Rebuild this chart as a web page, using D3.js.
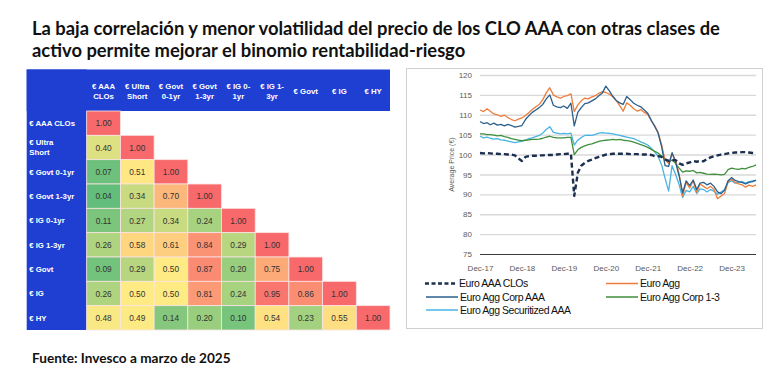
<!DOCTYPE html>
<html>
<head>
<meta charset="utf-8">
<script src="https://cdn.jsdelivr.net/npm/d3@7"></script>
<style>
  body { margin: 0; background: #fff; }
  svg { display: block; }
</style>
</head>
<body>
<div id="chart"></div>
<script>
var svgWidth = 775;
var svgHeight = 385;

// ---- heatmap data ----
var colLabels = [["€ AAA", "CLOs"], ["€ Ultra", "Short"], ["€ Govt", "0-1yr"], ["€ Govt", "1-3yr"],
                 ["€ IG 0-", "1yr"], ["€ IG 1-", "3yr"], ["€ Govt"], ["€ IG"], ["€ HY"]];
var rowLabels = [["€ AAA CLOs"], ["€ Ultra", "Short"], ["€ Govt 0-1yr"], ["€ Govt 1-3yr"],
                 ["€ IG 0-1yr"], ["€ IG 1-3yr"], ["€ Govt"], ["€ IG"], ["€ HY"]];
var corrValues = [
  [1.00],
  [0.40, 1.00],
  [0.07, 0.51, 1.00],
  [0.04, 0.34, 0.70, 1.00],
  [0.11, 0.27, 0.34, 0.24, 1.00],
  [0.26, 0.58, 0.61, 0.84, 0.29, 1.00],
  [0.09, 0.29, 0.50, 0.87, 0.20, 0.75, 1.00],
  [0.26, 0.50, 0.50, 0.81, 0.24, 0.95, 0.86, 1.00],
  [0.48, 0.49, 0.14, 0.20, 0.10, 0.54, 0.23, 0.55, 1.00]
];

// ---- line chart data (monthly, Dec-17 .. Jul-24) ----
var startMonth = new Date(2017, 11, 1);
var endMonth = new Date(2024, 6, 1);
var xTickLabels = ["Dec-17", "Dec-18", "Dec-19", "Dec-20", "Dec-21", "Dec-22", "Dec-23"];
var yTicks = [75, 80, 85, 90, 95, 100, 105, 110, 115, 120];

var euroAaaClos = [
  100.4, 100.3, 100.4, 100.3, 100.2, 100.2, 100.1, 100.1, 100.0, 100.0,
  99.8, 99.0, 98.4, 99.4, 99.6, 99.7, 99.7, 99.8, 99.8, 99.9,
  99.9, 99.9, 100.0, 100.1, 100.1, 100.2, 100.2, 89.6, 95.4, 97.2,
  97.9, 98.4, 98.7, 99.1, 99.4, 99.7, 100.0, 100.1, 100.2, 100.2,
  100.2, 100.2, 100.2, 100.1, 100.1, 100.1, 100.0, 100.0, 100.0, 99.9,
  99.6, 99.6, 99.4, 98.8, 98.4, 98.6, 98.6, 97.8, 97.4, 97.8,
  98.0, 98.4, 98.2, 98.4, 98.3, 98.9, 99.3, 99.6, 99.8, 100.0,
  100.1, 100.3, 100.4, 100.5, 100.5, 100.6, 100.6, 100.5, 100.4, 100.3
];
var euroAgg = [
  111.2, 110.8, 111.5, 110.9, 110.2, 110.0, 109.6, 109.9, 109.3, 108.8,
  108.5, 108.9, 109.2, 109.8, 110.6, 111.3, 112.0, 112.6, 113.8, 115.5,
  116.8, 115.0, 114.5, 114.2, 114.6, 114.8, 115.3, 110.8, 112.5, 113.5,
  114.2, 114.0, 114.5, 114.8, 115.4, 115.8, 115.6, 115.2, 114.5, 113.6,
  112.3, 110.9, 113.0, 112.4, 111.5, 110.9, 111.3, 110.6, 110.1, 108.5,
  107.2, 105.6, 102.4, 98.6, 97.8, 100.2, 98.5, 95.0, 89.6, 93.0,
  91.6, 93.4, 90.5, 92.6, 92.0, 91.4, 92.0, 91.2, 88.9, 89.6,
  90.2, 93.2, 93.8, 93.0, 92.6, 92.4, 91.8, 92.3, 92.0, 92.4
];
var euroAggCorpAaa = [
  108.3, 107.8, 108.0, 107.5, 107.9, 107.4, 107.6, 107.2, 107.6, 107.3,
  106.9, 107.1, 107.3, 108.8, 109.8, 110.6, 111.2, 111.8, 112.6, 114.0,
  115.0, 112.4, 112.0, 111.8, 112.2, 111.6, 112.9, 107.2, 110.6, 111.8,
  112.8, 113.0, 113.5, 114.0, 114.8, 115.5, 117.2, 116.0, 114.6, 113.6,
  113.0, 112.6, 114.6, 113.8, 112.9, 112.4, 112.0, 111.2, 110.4, 108.6,
  107.0, 105.4, 102.0, 97.2, 97.0, 100.5, 98.0, 94.6, 90.4, 93.4,
  92.2, 93.6, 91.2, 92.8, 93.0, 92.4, 92.8, 92.0, 90.6, 90.2,
  91.0, 93.4, 94.2, 93.5, 93.2, 93.0, 92.6, 93.0, 93.2, 93.5
];
var euroAggCorp13 = [
  105.2, 105.2, 105.0, 105.0, 104.9, 104.7, 104.8, 104.5, 104.3, 104.0,
  103.8, 103.6, 103.5, 103.6, 103.7, 103.8, 103.8, 103.9, 104.1, 104.4,
  104.6, 104.3, 104.2, 104.2, 104.2, 104.3, 104.3, 100.0, 101.2, 101.8,
  102.2, 102.5, 102.7, 103.0, 103.3, 103.5, 103.6, 103.7, 103.8, 103.7,
  103.8, 103.6, 103.5, 103.4, 103.1, 102.8, 102.5, 102.2, 101.8, 101.3,
  100.8, 100.4, 99.6, 98.8, 98.2, 98.6, 97.8, 96.6, 95.6, 95.9,
  95.8, 96.0, 95.4, 95.5, 95.3, 95.1, 95.0, 95.1, 95.0, 94.9,
  95.0, 96.2, 96.6, 96.4, 96.3, 96.5, 96.4, 96.8, 97.0, 97.4
];
var euroAggSecAaa = [
  104.6, 104.2, 104.4, 104.1, 103.9, 104.0, 103.7, 103.6, 103.4, 103.2,
  103.0, 103.2, 103.3, 103.6, 104.0, 104.2, 104.5, 104.8, 105.4, 106.3,
  107.0, 105.6, 105.4, 105.2, 105.3, 105.2, 105.4, 102.4, 103.6, 104.3,
  104.8, 104.9, 104.8, 105.1, 105.4, 105.5, 105.4, 105.3, 105.2, 105.0,
  104.8, 104.6, 104.4, 104.2, 104.0, 103.6, 103.2, 102.8, 102.4, 101.6,
  100.6, 99.6, 97.4, 94.0, 90.8, 97.2, 95.0, 92.4, 89.2, 91.0,
  90.6, 92.0, 90.2, 91.4, 91.2, 90.6, 91.2, 90.8, 90.0, 90.6,
  91.2, 93.0, 93.4, 92.8, 93.0, 93.2, 92.8, 93.2, 93.4, 93.6
];

var seriesNames = ["Euro AAA CLOs", "Euro Agg", "Euro Agg Corp AAA", "Euro Agg Corp 1-3", "Euro Agg Securitized AAA"];
var seriesValues = [euroAaaClos, euroAgg, euroAggCorpAaa, euroAggCorp13, euroAggSecAaa];
var seriesColors = ["#1c2f4f", "#ee7d3b", "#2a5f8c", "#3f8f3c", "#47b4e4"];

var svg = d3.select("#chart")
    .append("svg")
    .attr("width", svgWidth)
    .attr("height", svgHeight);

// ---- title ----
var titleFont = "Lato, 'Open Sans', sans-serif";
var t1 = svg.append("text")
    .attr("x", 32).attr("y", 35)
    .attr("font-family", titleFont).attr("font-weight", 700)
    .attr("font-size", 17).attr("fill", "#111")
    .text("La baja correlación y menor volatilidad del precio de los CLO AAA con otras clases de");
var fitSize = 17 * 688 / t1.node().getComputedTextLength();
t1.attr("font-size", fitSize);
svg.append("text")
    .attr("x", 32).attr("y", 56.5)
    .attr("font-family", titleFont).attr("font-weight", 700)
    .attr("font-size", fitSize).attr("fill", "#111")
    .text("activo permite mejorar el binomio rentabilidad-riesgo");

svg.append("text")
    .attr("x", 32).attr("y", 363)
    .attr("font-family", titleFont).attr("font-weight", 700)
    .attr("font-size", 13.6).attr("fill", "#111")
    .text("Fuente: Invesco a marzo de 2025");

// ---- heatmap ----
var hm = { left: 26.7, top: 69.5, labelW: 60, headH: 41.5, right: 390, bottom: 330 };
var blue = "#1f3fd3";
var cellFont = "'Liberation Sans', Arial, sans-serif";

var colScale = d3.scaleBand()
    .domain(d3.range(colLabels.length))
    .range([hm.left + hm.labelW, hm.right]);
var rowScale = d3.scaleBand()
    .domain(d3.range(rowLabels.length))
    .range([hm.top + hm.headH, hm.bottom]);
var colorScale = d3.scaleLinear()
    .domain([0.04, 0.5, 1.0])
    .range(["#63be7b", "#ffeb84", "#f8696b"]);

var hmGroup = svg.append("g");
hmGroup.append("rect")
    .attr("x", hm.left).attr("y", hm.top)
    .attr("width", hm.right - hm.left).attr("height", hm.headH)
    .attr("fill", blue);
hmGroup.append("rect")
    .attr("x", hm.left).attr("y", hm.top)
    .attr("width", hm.labelW).attr("height", hm.bottom - hm.top)
    .attr("fill", blue);

colLabels.forEach(function(lines, i) {
    var cx = colScale(i) + colScale.bandwidth() / 2;
    var y0 = lines.length == 1 ? hm.top + 24 : hm.top + 19.5;
    var t = hmGroup.append("text")
        .attr("text-anchor", "middle")
        .attr("font-family", cellFont).attr("font-weight", 700)
        .attr("font-size", 7.8).attr("fill", "#fff");
    lines.forEach(function(l, k) {
        t.append("tspan").attr("x", cx).attr("y", y0 + k * 10.3).text(l);
    });
});

rowLabels.forEach(function(lines, i) {
    var cy = rowScale(i) + rowScale.bandwidth() / 2;
    var y0 = lines.length == 1 ? cy + 2.8 : cy - 2.6;
    var t = hmGroup.append("text")
        .attr("font-family", cellFont).attr("font-weight", 700)
        .attr("font-size", 7.8).attr("fill", "#fff");
    lines.forEach(function(l, k) {
        t.append("tspan").attr("x", hm.left + 2.5).attr("y", y0 + k * 10.5).text(l);
    });
});

var cells = [];
corrValues.forEach(function(row, r) {
    row.forEach(function(v, c) { cells.push({ r: r, c: c, v: v }); });
});

hmGroup.selectAll("rect.cell")
    .data(cells)
    .enter()
    .append("rect")
    .attr("class", "cell")
    .attr("x", d => colScale(d.c))
    .attr("y", d => rowScale(d.r))
    .attr("width", colScale.bandwidth())
    .attr("height", rowScale.bandwidth())
    .attr("fill", d => colorScale(d.v))
    .attr("stroke", "#fbe3e3")
    .attr("stroke-width", 0.8);

hmGroup.selectAll("text.val")
    .data(cells)
    .enter()
    .append("text")
    .attr("class", "val")
    .attr("x", d => colScale(d.c) + colScale.bandwidth() / 2)
    .attr("y", d => rowScale(d.r) + rowScale.bandwidth() / 2 + 3)
    .attr("text-anchor", "middle")
    .attr("font-family", cellFont)
    .attr("font-size", 8.3).attr("fill", "#333")
    .text(d => d.v.toFixed(2));

// ---- line chart ----
svg.append("rect")
    .attr("x", 406.5).attr("y", 68.5)
    .attr("width", 356).attr("height", 260)
    .attr("fill", "#fff").attr("stroke", "#d0d0d0").attr("stroke-width", 1);

var plot = { left: 480, right: 756, top: 75, bottom: 254 };
var narrow = "'Liberation Sans Narrow', 'Arial Narrow', 'Liberation Sans', sans-serif";
var months = d3.timeMonth.range(startMonth, d3.timeMonth.offset(endMonth, 1));

var xScale = d3.scaleTime()
    .domain([startMonth, endMonth])
    .range([plot.left, plot.right]);
var yScale = d3.scaleLinear()
    .domain([75, 120])
    .range([plot.bottom, plot.top]);

var leftAxis = d3.axisLeft(yScale)
    .tickValues(yTicks)
    .tickSize(-(plot.right - plot.left))
    .tickPadding(8)
    .tickFormat(d3.format("d"));
var yAxisG = svg.append("g")
    .attr("transform", `translate(${plot.left},0)`)
    .call(leftAxis);
yAxisG.select(".domain").remove();
yAxisG.selectAll(".tick line")
    .attr("stroke", d => d == 75 ? "#3a3a3a" : "#d9d9d9")
    .attr("stroke-width", d => d == 75 ? 1 : 1.4);
yAxisG.selectAll(".tick text")
    .attr("font-family", narrow).attr("font-size", 8).attr("fill", "#595959");

var xTickDates = xTickLabels.map(function(s, i) { return new Date(2017 + i, 11, 1); });
var bottomAxis = d3.axisBottom(xScale)
    .tickValues(xTickDates)
    .tickSize(0)
    .tickPadding(11)
    .tickFormat(function(d, i) { return xTickLabels[i]; });
var xAxisG = svg.append("g")
    .attr("transform", `translate(0,${plot.bottom})`)
    .call(bottomAxis);
xAxisG.select(".domain").remove();
xAxisG.selectAll(".tick text")
    .attr("font-family", narrow).attr("font-size", 8).attr("fill", "#595959");

svg.append("text")
    .attr("transform", `translate(454,${(plot.top + plot.bottom) / 2}) rotate(-90)`)
    .attr("text-anchor", "middle")
    .attr("font-family", narrow).attr("font-size", 7).attr("fill", "#595959")
    .text("Average Price (€)");

var line = d3.line()
    .x((d, i) => xScale(months[i]))
    .y(d => yScale(d));

// draw CLO series last so the dashed line sits on top
var drawOrder = [4, 3, 1, 2, 0];
drawOrder.forEach(function(k) {
    svg.append("path")
        .datum(seriesValues[k])
        .attr("fill", "none")
        .attr("stroke", seriesColors[k])
        .attr("stroke-width", k == 0 ? 2.4 : 1.3)
        .attr("stroke-dasharray", k == 0 ? "5,3" : null)
        .attr("stroke-linejoin", "round")
        .attr("d", line);
});

// legend
var legendPos = [[425, 283.5], [606, 283.5], [426, 297], [606, 297], [426, 310]];
legendPos.forEach(function(p, k) {
    svg.append("line")
        .attr("x1", p[0]).attr("x2", p[0] + 32)
        .attr("y1", p[1]).attr("y2", p[1])
        .attr("stroke", seriesColors[k])
        .attr("stroke-width", k == 0 ? 2.4 : 1.5)
        .attr("stroke-dasharray", k == 0 ? "4,2.5" : null);
    svg.append("text")
        .attr("x", p[0] + 34).attr("y", p[1] + 3.8)
        .attr("font-family", narrow).attr("font-size", 10.5)
        .attr("letter-spacing", -0.45).attr("fill", "#111")
        .text(seriesNames[k]);
});
</script>
</body>
</html>
